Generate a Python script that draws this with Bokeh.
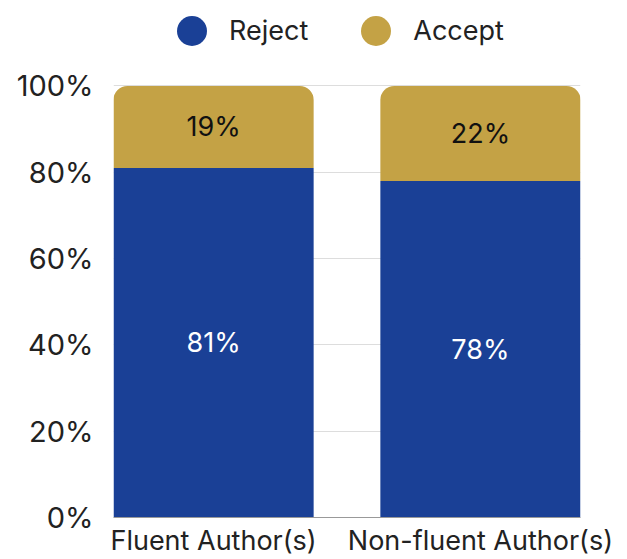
from bokeh.plotting import figure
from bokeh.models import ColumnDataSource, FixedTicker, Legend, LegendItem, LabelSet
from bokeh.core.properties import value
from bokeh.embed import file_html
from bokeh.resources import INLINE

categories = ["Fluent Author(s)", "Non-fluent Author(s)"]
reject = [81, 78]
accept = [19, 22]
y_ticks = [0, 20, 40, 60, 80, 100]

REJECT_COLOR = "#1a4096"
ACCEPT_COLOR = "#c4a245"
FONT = "Inter"

xs = list(range(len(categories)))
src = ColumnDataSource(dict(
    x=xs,
    reject=reject,
    accept=accept,
    acc_top=[r + a for r, a in zip(reject, accept)],
    rej_mid=[r / 2 for r in reject],
    acc_mid=[r + a / 2 for r, a in zip(reject, accept)],
    rej_lbl=[f"{r}%" for r in reject],
    acc_lbl=[f"{a}%" for a in accept],
))

# frame spans full height; headroom above 100% holds the legend
p = figure(width=627, height=559, x_range=(-0.375, len(categories) - 0.625), y_range=(0, 119.8),
           output_backend="svg", toolbar_location=None,
           min_border_left=113, min_border_right=47, min_border_top=0, min_border_bottom=39)
p.outline_line_color = None
p.background_fill_color = "white"
p.border_fill_color = "white"

r_rej = p.vbar(x="x", bottom=0, top="reject", width=0.75, source=src,
               fill_color=REJECT_COLOR, line_color=None)
r_acc = p.vbar(x="x", bottom="reject", top="acc_top", width=0.75, source=src,
               fill_color=ACCEPT_COLOR, line_color=None, border_radius=(14, 14, 0, 0))

p.add_layout(LabelSet(x="x", y="rej_mid", text="rej_lbl", source=src, text_align="center",
                      text_baseline="middle", text_color="white", text_font=value(FONT),
                      text_font_size="27px"))
p.add_layout(LabelSet(x="x", y="acc_mid", text="acc_lbl", source=src, text_align="center",
                      text_baseline="middle", text_color="#111111", text_font=value(FONT),
                      text_font_size="27px"))

# legend markers (zero-size, only used for legend)
d_rej = p.scatter([0], [0], marker="circle", size=0, fill_color=REJECT_COLOR, line_color=None)
d_acc = p.scatter([0], [0], marker="circle", size=0, fill_color=ACCEPT_COLOR, line_color=None)

legend = Legend(items=[LegendItem(label="Reject", renderers=[d_rej]),
                       LegendItem(label="Accept", renderers=[d_acc])],
                orientation="horizontal", location=(41, 449),
                glyph_width=75, glyph_height=75, label_standoff=0, spacing=30,
                label_text_font=FONT, label_text_font_size="27px", label_text_color="#222222",
                border_line_color=None, background_fill_alpha=0, padding=0, margin=0)
p.add_layout(legend, "center")

p.xaxis.ticker = FixedTicker(ticks=xs)
p.xaxis.major_label_overrides = {i: c for i, c in enumerate(categories)}
p.xaxis.major_label_text_font = FONT
p.xaxis.major_label_text_font_size = "27px"
p.xaxis.major_label_text_color = "#222222"
p.xaxis.major_tick_line_color = None
p.xaxis.minor_tick_line_color = None
p.xaxis.axis_line_color = "#999999"
p.xaxis.major_label_standoff = 0

p.yaxis.ticker = FixedTicker(ticks=y_ticks)
p.yaxis.major_label_overrides = {t: f"{t}%" for t in y_ticks}
p.yaxis.major_label_text_font = FONT
p.yaxis.major_label_text_font_size = "29px"
p.yaxis.major_label_text_color = "#222222"
p.yaxis.major_tick_line_color = None
p.yaxis.minor_tick_line_color = None
p.yaxis.axis_line_color = None
p.yaxis.major_label_standoff = 14

p.xgrid.grid_line_color = None
p.ygrid.grid_line_color = "#dddddd"
p.ygrid.ticker = FixedTicker(ticks=y_ticks)

open("out.html", "w").write(file_html(p, INLINE))
